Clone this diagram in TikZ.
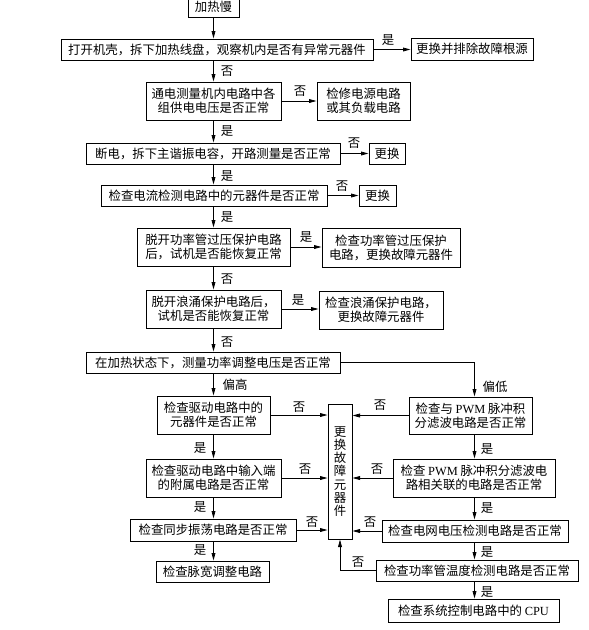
\documentclass[tikz,border=0pt]{standalone}
\usepackage{fontspec}
\setmainfont{Liberation Serif}
\newfontfamily\cjk{Noto Sans CJK SC}
\usetikzlibrary{arrows.meta}
\begin{document}
\begin{tikzpicture}[x=1pt,y=-1pt,
  bx/.style={draw, line width=1pt, inner sep=0pt, align=center, font=\cjk\fontsize{12.4}{14}\selectfont},
  wh/.style 2 args={minimum width=#1pt, minimum height=#2pt},
  lab/.style={inner sep=0pt, font=\cjk\fontsize{12.4}{14}\selectfont},
  arr/.style={line width=0.8pt, -{Triangle[length=7.5pt,width=3.8pt]}},
  ln/.style={line width=0.8pt}]
\useasboundingbox[fill=white] (0,0) rectangle (589,630);
\coordinate (cx) at (213.5,0);
\coordinate (rx) at (474.5,0);
% main column
\node[bx, wh={51}{21}] (n1) at (213.5,6.5) {加热慢};
\node[bx, wh={312}{21}] (n2) at (217,49.5) {打开机壳，拆下加热线盘，观察机内是否有异常元器件};
\node[bx, wh={122}{22}] (n2r) at (472,49) {更换并排除故障根源};
\node[bx, wh={135}{38}] (n3) at (213.5,101) {通电测量机内电路中各\\组供电电压是否正常};
\node[bx, wh={93}{38}] (n3r) at (363.5,101) {检修电源电路\\或其负载电路};
\node[bx, wh={254}{21}] (n4) at (213,153.5) {断电，拆下主谐振电容，开路测量是否正常};
\node[bx, wh={36}{21}] (n4r) at (387,153.5) {更换};
\node[bx, wh={226}{21}] (n5) at (214,195.5) {检查电流检测电路中的元器件是否正常};
\node[bx, wh={37}{21}] (n5r) at (377.5,195.5) {更换};
\node[bx, wh={153}{38}] (n6) at (213.5,247) {脱开功率管过压保护电路\\后，试机是否能恢复正常};
\node[bx, wh={138}{39}] (n6r) at (391,247.5) {检查功率管过压保护\\电路，更换故障元器件};
\node[bx, wh={135}{38}] (n7) at (213.5,309) {脱开浪涌保护电路后，\\试机是否能恢复正常};
\node[bx, wh={124}{38}] (n7r) at (381,310) {检查浪涌保护电路，\\更换故障元器件};
\node[bx, wh={254}{21}] (n8) at (213,362.5) {在加热状态下，测量功率调整电压是否正常};
% left column
\node[bx, wh={113}{38}] (L1) at (213.5,415) {检查驱动电路中的\\元器件是否正常};
\node[bx, wh={135}{38}] (L2) at (213.5,478) {检查驱动电路中输入端\\的附属电路是否正常};
\node[bx, wh={166}{22}] (L3) at (213,530) {检查同步振荡电路是否正常};
\node[bx, wh={113}{21}] (L4) at (212.5,571.5) {检查脉宽调整电路};
% centre
\node[bx, wh={24}{135}, font=\cjk\fontsize{12.4}{13.2}\selectfont] (C) at (340,471.5) {更\\换\\故\\障\\元\\器\\件};
% right column
\node[bx, wh={123}{37}] (R1) at (470.5,415.5) {检查与 {\rmfamily PWM} 脉冲积\\分滤波电路是否正常};
\node[bx, wh={162}{38}] (R2) at (474,478) {检查 {\rmfamily PWM} 脉冲积分滤波电\\路相关联的电路是否正常};
\node[bx, wh={186}{22}] (R3) at (475,531) {检查电网电压检测电路是否正常};
\node[bx, wh={202}{21}] (R4) at (477,570.5) {检查功率管温度检测电路是否正常};
\node[bx, wh={171}{23}] (R5) at (473.5,610.5) {检查系统控制电路中的 {\rmfamily CPU}};
% main vertical arrows
\draw[arr] (cx |- n1.south) -- (cx |- n2.north);
\draw[arr] (cx |- n2.south) -- (cx |- n3.north);
\draw[arr] (cx |- n3.south) -- (cx |- n4.north);
\draw[arr] (cx |- n4.south) -- (cx |- n5.north);
\draw[arr] (cx |- n5.south) -- (cx |- n6.north);
\draw[arr] (cx |- n6.south) -- (cx |- n7.north);
\draw[arr] (cx |- n7.south) -- (cx |- n8.north);
\draw[arr] (cx |- n8.south) -- (cx |- L1.north);
\draw[arr] (cx |- L1.south) -- (cx |- L2.north);
\draw[arr] (cx |- L2.south) -- (cx |- L3.north);
\draw[arr] (cx |- L3.south) -- (cx |- L4.north);
% side arrows
\draw[arr] (n2.east) -- (n2.east -| n2r.west);
\draw[arr] (n3.east) -- (n3.east -| n3r.west);
\draw[arr] (n4.east) -- (n4.east -| n4r.west);
\draw[arr] (n5.east) -- (n5.east -| n5r.west);
\draw[arr] (n6.east) -- (n6.east -| n6r.west);
\draw[arr] (n7.east) -- (n7.east -| n7r.west);
\draw[arr] (n8.east) -| (R1.north -| rx);
% to centre
\draw[arr] (L1.east) -- (L1.east -| C.west);
\draw[arr] (L2.east) -- (L2.east -| C.west);
\draw[arr] (L3.east) -- (L3.east -| C.west);
\draw[arr] (R1.west) -- (R1.west -| C.east);
\draw[arr] (R2.west) -- (R2.west -| C.east);
\draw[arr] (R3.west) -- (R3.west -| C.east);
\draw[arr] (R4.west) -| (C.south);
% right vertical arrows
\draw[arr] (rx |- R1.south) -- (rx |- R2.north);
\draw[arr] (rx |- R2.south) -- (rx |- R3.north);
\draw[arr] (rx |- R3.south) -- (rx |- R4.north);
\draw[arr] (rx |- R4.south) -- (rx |- R5.north);
% labels
\node[lab] (t1) at (227,71) {否};
\node[lab] (t2) at (388,40) {是};
\node[lab] (t3) at (300,91) {否};
\node[lab] (t4) at (227,131) {是};
\node[lab] (t5) at (354,143) {否};
\node[lab] (t6) at (227,176) {是};
\node[lab] (t7) at (342,186) {否};
\node[lab] (t8) at (227,217) {是};
\node[lab] (t9) at (306,237) {是};
\node[lab] (t10) at (227,279) {否};
\node[lab] (t11) at (298,300) {是};
\node[lab] (t12) at (227,342) {否};
\node[lab] (t13) at (235,385) {偏高};
\node[lab] (t14) at (495,387) {偏低};
\node[lab] (t15) at (299,407) {否};
\node[lab] (t16) at (200,448) {是};
\node[lab] (t17) at (305,469) {否};
\node[lab] (t18) at (200,507) {是};
\node[lab] (t19) at (312,522) {否};
\node[lab] (t20) at (200,550) {是};
\node[lab] (t21) at (380,405) {否};
\node[lab] (t22) at (487,449) {是};
\node[lab] (t23) at (377,469) {否};
\node[lab] (t24) at (487,508) {是};
\node[lab] (t25) at (370,522) {否};
\node[lab] (t26) at (487,552) {是};
\node[lab] (t27) at (358,562) {否};
\node[lab] (t28) at (487,592) {是};
\end{tikzpicture}
\end{document}
